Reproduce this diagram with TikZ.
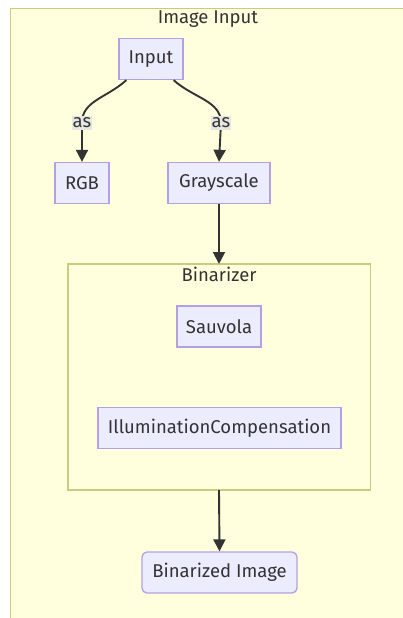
\documentclass[tikz,border=0pt]{standalone}
\usepackage{fontspec}
\setmainfont{Fira Sans}
\usetikzlibrary{arrows.meta}
\definecolor{clusterfill}{HTML}{FFFFDE}
\definecolor{clusterline}{HTML}{C9CB7E}
\definecolor{nodefill}{HTML}{ECECFF}
\definecolor{nodeline}{HTML}{B4A0E4}
\definecolor{ink}{HTML}{333333}
\definecolor{labelbg}{HTML}{E6E6E2}
\tikzset{
  txt/.style={font=\fontsize{18.5}{22}\selectfont},
  cluster/.style={draw=clusterline, fill=clusterfill, line width=1.3pt},
  box/.style={draw=nodeline, fill=nodefill, line width=1.3pt, text=ink,
    inner sep=0pt, txt, minimum height=41pt},
  roundbox/.style={box, rounded corners=5pt},
  title/.style={text=ink, txt, inner sep=0pt},
  edge/.style={draw=ink, line width=1.9pt},
  tip/.style={-{Triangle[length=12pt,width=12pt]}},
  edgelabel/.style={fill=labelbg, text=ink, inner xsep=1pt, inner ysep=2pt, txt}
}
\begin{document}
\begin{tikzpicture}[x=1pt,y=-1pt]
\useasboundingbox (0,0) rectangle (403,618);
\begin{scope}
\clip (0,0) rectangle (403,618);
% outer cluster
\draw[cluster] (10.5,8.5) rectangle (420,640);
\end{scope}
\node[title] (t1) at (208,19) {Image Input};
\node[box, minimum width=64pt] (in) at (151,59) {Input};
\node[box, minimum width=54pt] (rgb) at (82,183) {RGB};
\node[box, minimum width=102pt] (gray) at (219,183) {Grayscale};
% inner cluster
\draw[cluster] (68,264) rectangle (370.5,490);
\node[title] (t2) at (219,274) {Binarizer};
\node[box, minimum width=84pt] (sau) at (219,326.5) {Sauvola};
\node[box, minimum width=243pt] (ill) at (219.5,428) {IlluminationCompensation};
\coordinate (bintop) at (219,264);
\coordinate (binbot) at (219,490);
\node[roundbox, minimum width=155pt] (out) at (219.5,572.5) {Binarized Image};
% connectors
\draw[edge, tip] ([xshift=8pt]in.south west) .. controls +(-20,18) and +(0,-22) ..
  ([yshift=39pt]rgb.north) node[edgelabel] (as1) {as} -- (rgb.north);
\draw[edge, tip] ([xshift=-10pt]in.south east) .. controls +(20,18) and +(0,-22) ..
  ([xshift=2pt,yshift=39pt]gray.north) node[edgelabel] (as2) {as} -- (gray.north);
\draw[edge, tip] (gray.south) -- (bintop);
\draw[edge, tip] (binbot) -- (out.north);
\end{tikzpicture}
\end{document}
